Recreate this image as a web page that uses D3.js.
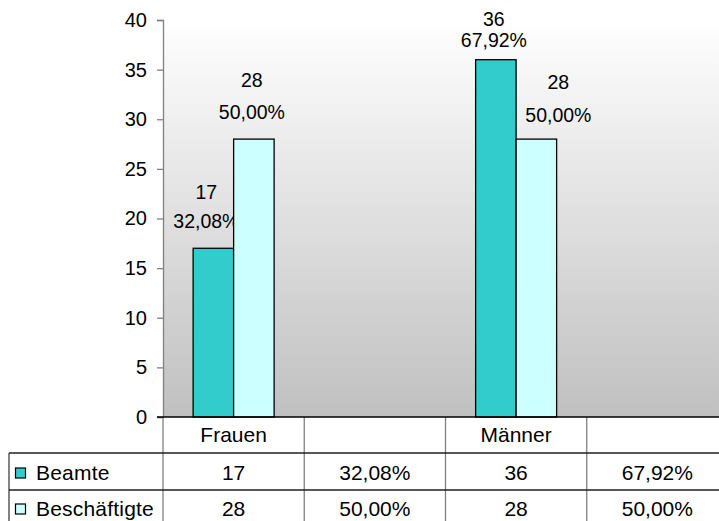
<!DOCTYPE html>
<html><head><meta charset="utf-8">
<script src="https://cdn.jsdelivr.net/npm/d3@7"></script>
<style>
html,body{margin:0;padding:0;background:#fff;}
svg{display:block;font-family:"Liberation Sans",Arial,sans-serif;}
</style></head>
<body><svg id="c" width="719" height="521"></svg>
<script>
// ---- data ----
const categories = ["Frauen", "", "Männer", ""];
const seriesNames = ["Beamte", "Beschäftigte"];
const beamteValues = [17, 36];
const beschaeftigteValues = [28, 28];
const beamteTable = ["17", "32,08%", "36", "67,92%"];
const beschaeftigteTable = ["28", "50,00%", "28", "50,00%"];
const barCategories = ["Frauen", "Männer"];
const beamteLabels = [["17", "32,08%"], ["36", "67,92%"]];
const beschaeftigteLabels = [["28", "50,00%"], ["28", "50,00%"]];
const yTicks = [0, 5, 10, 15, 20, 25, 30, 35, 40];

// ---- layout / style ----
const colors = ["#33cccc", "#ccffff"];
// per-label nudges (dx from bar centre, baseline offsets of each line above bar top)
const labelNudge = [
  [{dx: -7, l1: 49, l2: 20}, {dx: -2, l1: 52, l2: 20}],
  [{dx: -2, l1: 34, l2: 13}, {dx: 22, l1: 50, l2: 17}]
];
const svg = d3.select("#c");
const plotLeft = 163, plotRight = 728, plotTop = 20, plotBottom = 417;
const fsTick = 20, fsLabel = 19.5, fsTable = 21;

const x = d3.scaleBand().domain(d3.range(categories.length)).range([plotLeft, plotRight]);
const y = d3.scaleLinear().domain([0, 40]).range([plotBottom, plotTop]);
const groupW = 81;
const xs = d3.scaleBand().domain([0, 1]).range([0, groupW]);

const defs = svg.append("defs");
const grad = defs.append("linearGradient").attr("id", "bg").attr("x1", 0).attr("y1", 0).attr("x2", 0).attr("y2", 1);
grad.append("stop").attr("offset", 0).attr("stop-color", "#ffffff");
grad.append("stop").attr("offset", 1).attr("stop-color", "#c0c0c0");

svg.append("rect").attr("x", plotLeft).attr("y", plotTop)
  .attr("width", plotRight - plotLeft).attr("height", plotBottom - plotTop)
  .attr("fill", "url(#bg)");

// y axis
const yAxis = d3.axisLeft(y).tickValues(yTicks).tickSize(6).tickPadding(10);
const ga = svg.append("g").attr("transform", `translate(${plotLeft},0)`).call(yAxis);
ga.select(".domain").attr("stroke", "#808080").attr("stroke-width", 1.3);
ga.selectAll(".tick line").attr("stroke", "#808080").attr("stroke-width", 1.3);
ga.selectAll(".tick text").attr("font-size", fsTick).attr("fill", "#000")
  .attr("font-family", "Liberation Sans, Arial, sans-serif");

// bars
const allVals = [beamteValues, beschaeftigteValues];
const allLabels = [beamteLabels, beschaeftigteLabels];
barCategories.forEach((cat, ci) => {
  const catIdx = categories.indexOf(cat);
  const gx = x(catIdx) + (x.bandwidth() - groupW) / 2;
  allVals.forEach((vals, si) => {
    const v = vals[ci];
    const bx = gx + xs(si);
    svg.append("rect").attr("x", bx).attr("y", y(v))
      .attr("width", xs.bandwidth()).attr("height", y(0) - y(v))
      .attr("fill", colors[si]).attr("stroke", "#000").attr("stroke-width", 1.3);
    const n = labelNudge[ci][si];
    const cx = bx + xs.bandwidth() / 2 + n.dx;
    const lab = allLabels[si][ci];
    svg.append("text").attr("x", cx).attr("y", y(v) - n.l1).attr("text-anchor", "middle")
      .attr("font-size", fsLabel).text(lab[0]);
    svg.append("text").attr("x", cx).attr("y", y(v) - n.l2).attr("text-anchor", "middle")
      .attr("font-size", fsLabel).text(lab[1]);
  });
});

// data table
const rowH = [417, 453, 490, 527];
const tableLeft = 9;
const g = svg.append("g");
categories.forEach((c, i) => {
  g.append("text").attr("x", x(i) + x.bandwidth() / 2).attr("y", 442)
    .attr("text-anchor", "middle").attr("font-size", fsTable).text(c);
});
const tables = [beamteTable, beschaeftigteTable];
tables.forEach((row, ri) => {
  row.forEach((t, i) => {
    g.append("text").attr("x", x(i) + x.bandwidth() / 2).attr("y", [480, 516][ri])
      .attr("text-anchor", "middle").attr("font-size", fsTable).text(t);
  });
  const ky = [468, 504][ri];
  g.append("rect").attr("x", 15.5).attr("y", ky).attr("width", 10).attr("height", 10)
    .attr("fill", colors[ri]).attr("stroke", "#000").attr("stroke-width", 1.2);
  g.append("text").attr("x", 36).attr("y", [480, 516][ri]).attr("font-size", fsTable)
    .attr("letter-spacing", 0.2).text(seriesNames[ri]);
});
// vertical lines
d3.range(categories.length).forEach(i => {
  const xx = x(i);
  g.append("line").attr("x1", xx).attr("x2", xx).attr("y1", plotBottom)
    .attr("y2", 521).attr("stroke", "#808080").attr("stroke-width", 1.3);
});
g.append("line").attr("x1", tableLeft).attr("x2", tableLeft).attr("y1", rowH[1]).attr("y2", 521)
  .attr("stroke", "#404040").attr("stroke-width", 1.3);
[rowH[1], rowH[2]].forEach(yy => {
  g.append("line").attr("x1", tableLeft).attr("x2", 719).attr("y1", yy).attr("y2", yy)
    .attr("stroke", "#202020").attr("stroke-width", 1.3);
});
// x axis line (zero)
svg.append("line").attr("x1", plotLeft - 6).attr("x2", 719).attr("y1", plotBottom).attr("y2", plotBottom)
  .attr("stroke", "#000").attr("stroke-width", 1.3);
</script></body></html>
